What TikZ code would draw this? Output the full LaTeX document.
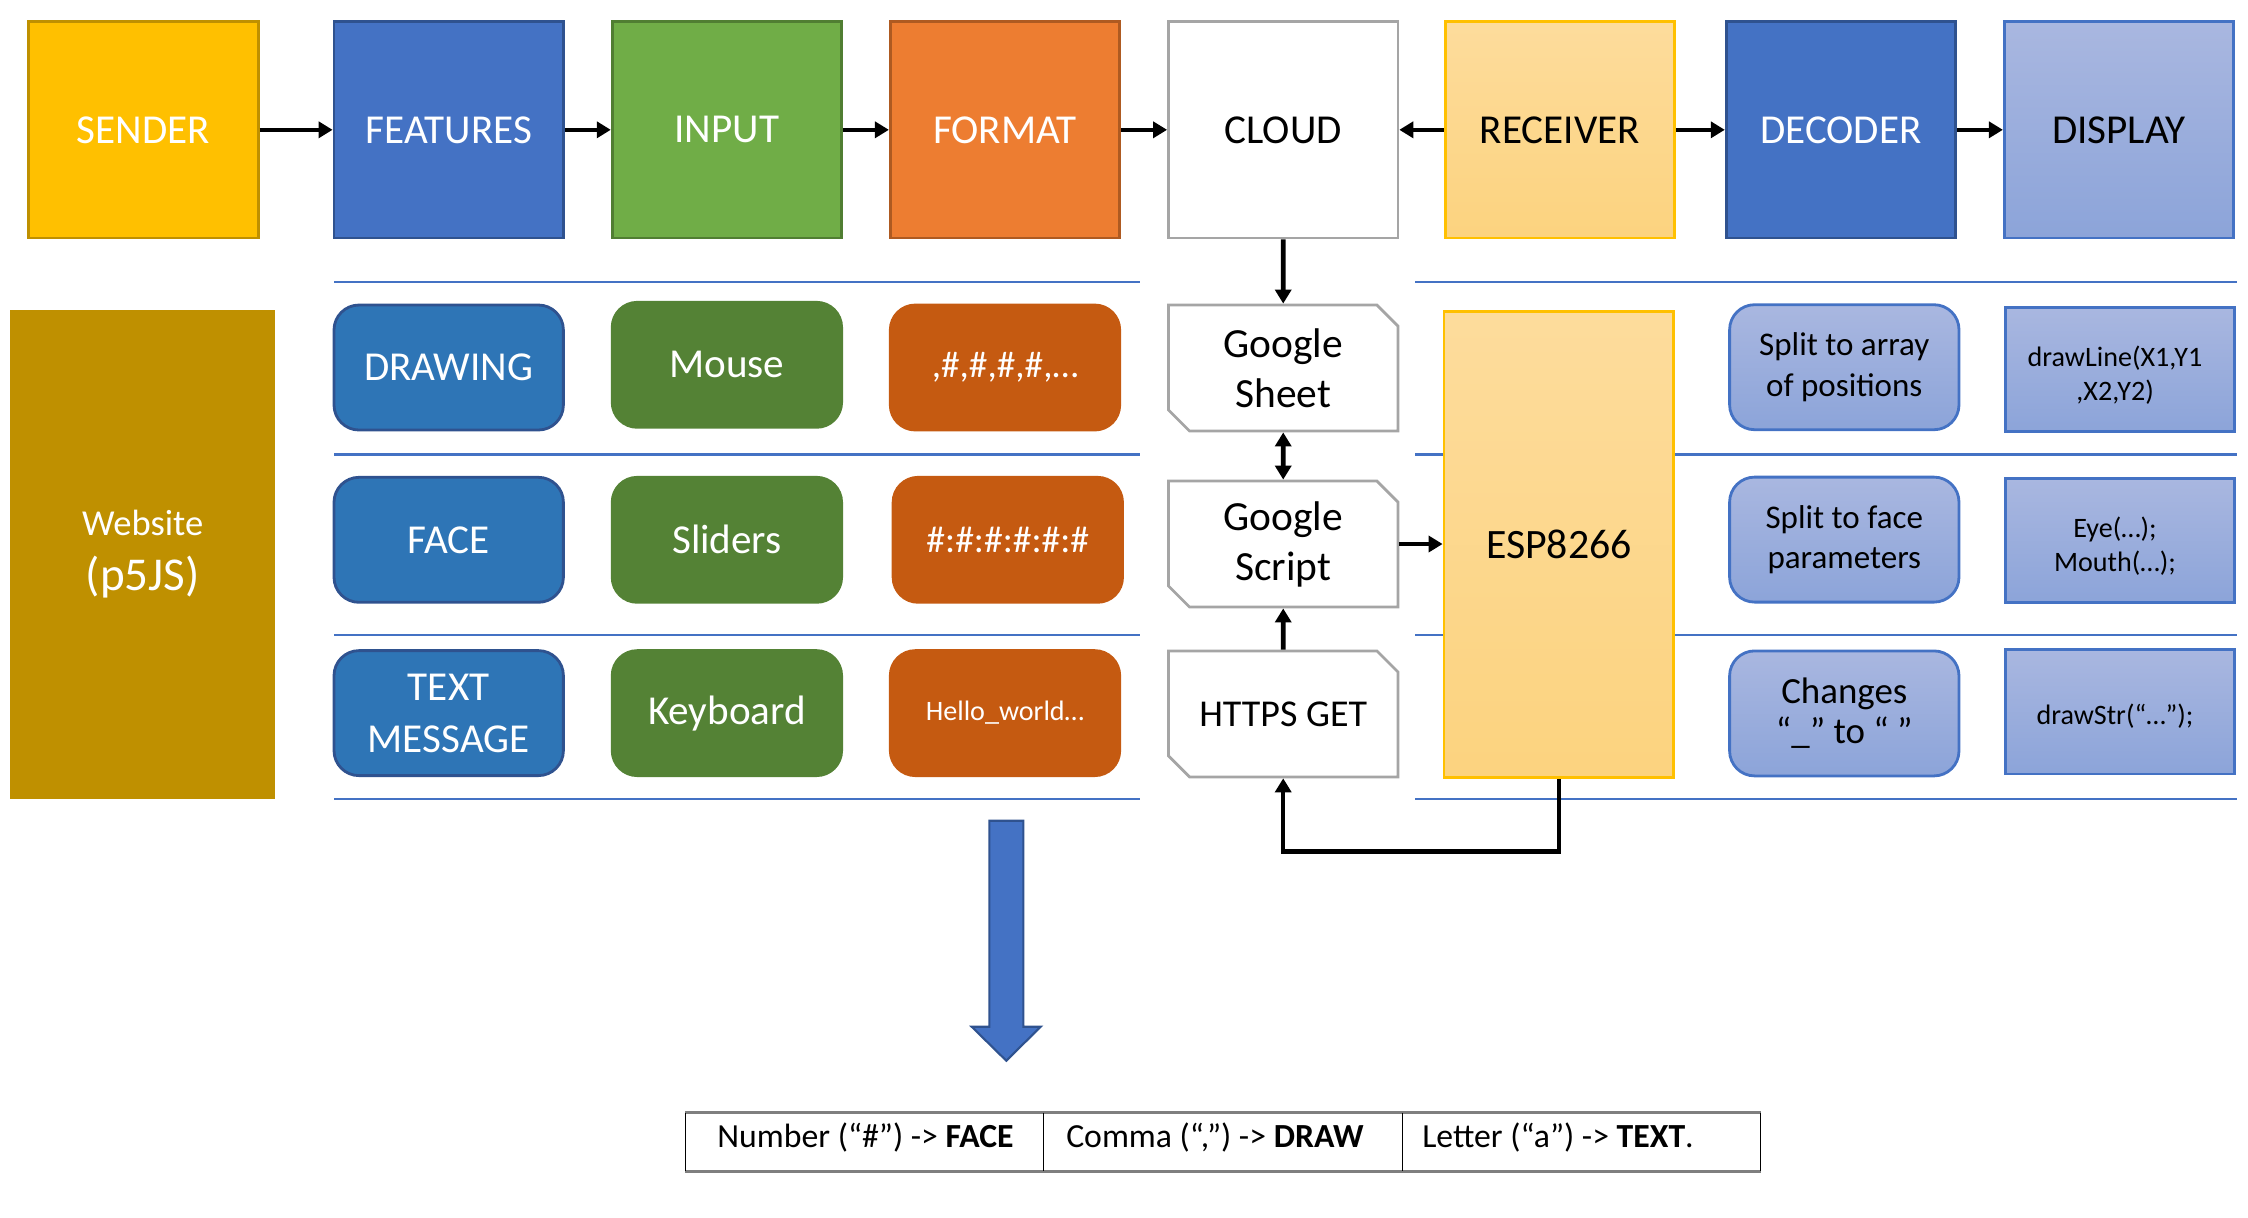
\documentclass[tikz,border=0pt]{standalone}
\usepackage{fontspec}
\setmainfont{Carlito}
\usetikzlibrary{arrows.meta,shapes.misc}
\definecolor{sendergold}{HTML}{FFC000}
\definecolor{senderedge}{HTML}{BF9000}
\definecolor{webgold}{HTML}{BF9000}
\definecolor{featblue}{HTML}{4472C4}
\definecolor{featedge}{HTML}{2F528F}
\definecolor{inputgreen}{HTML}{70AD47}
\definecolor{inputedge}{HTML}{507E32}
\definecolor{formatorange}{HTML}{ED7D31}
\definecolor{formatedge}{HTML}{AE5A21}
\definecolor{cloudgrey}{HTML}{A5A5A5}
\definecolor{recvtop}{HTML}{FDDC9C}
\definecolor{recvbottom}{HTML}{FCD37F}
\definecolor{disptop}{HTML}{A9B7E0}
\definecolor{dispbottom}{HTML}{8CA4D9}
\definecolor{pillblue}{HTML}{2E75B6}
\definecolor{pillgreen}{HTML}{548235}
\definecolor{pillorange}{HTML}{C55A11}
\definecolor{tableedge}{HTML}{7F7F7F}
\begin{document}
\begin{tikzpicture}[
    stage/.style={minimum width=2.294cm,minimum height=2.165cm,inner sep=0pt,line width=0.8pt,font=\fontsize{11.7}{14}\selectfont},
    pill/.style={rounded corners=0.25cm,minimum width=2.294cm,minimum height=1.25cm,inner sep=0pt,line width=0.8pt,align=center,text=white,font=\fontsize{11.7}{14.8}\selectfont},
    snipbox/.style={chamfered rectangle,chamfered rectangle xsep=0.105cm,chamfered rectangle ysep=0.105cm,minimum width=2.294cm,minimum height=1.26cm,inner sep=0pt,line width=0.8pt,align=center},
    codebox/.style={snipbox,chamfered rectangle corners=north east,minimum height=1.244cm,top color=disptop,bottom color=dispbottom,draw=featblue},
    codetext/.style={align=center,inner sep=0pt,font=\fontsize{8}{9.6}\selectfont},
    flow/.style={-{Triangle[length=1.4mm,width=1.6mm]},line width=1.3pt},
    rowline/.style={featblue,line width=0.6pt}
  ]
            \useasboundingbox (0,0) rectangle (22.48,-12.17);

            \node[stage,fill=sendergold,draw=senderedge,text=white] (SND) at (1.434,-1.298) {SENDER};
            \node[stage,fill=featblue,draw=featedge,text=white] (FEA) at (4.487,-1.298) {FEATURES};
            \node[stage,fill=inputgreen,draw=inputedge,text=white] (INP) at (7.269,-1.298) {INPUT};
            \node[stage,fill=formatorange,draw=formatedge,text=white] (FMT) at (10.050,-1.298) {FORMAT};
            \node[stage,fill=white,draw=cloudgrey] (CLD) at (12.832,-1.298) {CLOUD};
            \node[stage,top color=recvtop,bottom color=recvbottom,draw=sendergold] (RCV) at (15.599,-1.298) {RECEIVER};
            \node[stage,fill=featblue,draw=featedge,text=white] (DEC) at (18.409,-1.298) {DECODER};
            \node[stage,top color=disptop,bottom color=dispbottom,draw=featblue] (DSP) at (21.190,-1.298) {DISPLAY};

            \node[fill=webgold,minimum width=2.653cm,minimum height=4.889cm,inner sep=0pt,align=center,text=white,font=\fontsize{10.4}{15.6}\selectfont] (WEB) at (1.427,-5.541) {Website\\{\fontsize{13.4}{15.6}\selectfont (p5JS)}};

            \foreach \y in {-2.824,-4.545,-6.351,-7.986} {
              \draw[rowline] (3.34,\y) -- (11.398,\y);
              \draw[rowline] (14.15,\y) -- (22.366,\y);
            }

            \node[pill,fill=pillblue,draw=featedge] (DRW) at (4.487,-3.675) {DRAWING};
            \node[pill,fill=pillblue,draw=featedge] (FAC) at (4.487,-5.398) {FACE};
            \node[pill,fill=pillblue,draw=featedge] (TXT) at (4.487,-7.131) {TEXT\\MESSAGE};
            \node[pill,fill=pillgreen,draw=pillgreen] (MOU) at (7.269,-3.648) {Mouse};
            \node[pill,fill=pillgreen,draw=pillgreen] (SLD) at (7.269,-5.398) {Sliders};
            \node[pill,fill=pillgreen,draw=pillgreen] (KEY) at (7.269,-7.131) {Keyboard};
            \node[pill,fill=pillorange,draw=pillorange,font=\fontsize{10.6}{13}\selectfont] (F1) at (10.050,-3.675) {,\#,\#,\#,\#,…};
            \node[pill,fill=pillorange,draw=pillorange,font=\fontsize{10.7}{13}\selectfont] (F2) at (10.078,-5.398) {\#:\#:\#:\#:\#:\#};
            \node[pill,fill=pillorange,draw=pillorange,font=\fontsize{8}{10}\selectfont] (F3) at (10.050,-7.131) {Hello\_world…};

            \node[snipbox,chamfered rectangle corners={north east,south west},draw=cloudgrey,fill=white,font=\fontsize{11.8}{14.2}\selectfont] (GS) at (12.832,-3.68) {Google\\Sheet};
            \node[snipbox,chamfered rectangle corners={north east,south west},draw=cloudgrey,fill=white,font=\fontsize{11.8}{14.2}\selectfont] (GSC) at (12.832,-5.44) {Google\\Script};
            \node[snipbox,chamfered rectangle corners={north east,south west},draw=cloudgrey,fill=white,font=\fontsize{10.8}{13}\selectfont] (GET) at (12.832,-7.139) {HTTPS GET};

            \node[top color=recvtop,bottom color=recvbottom,draw=sendergold,minimum width=2.296cm,minimum height=4.665cm,inner sep=0pt,line width=0.8pt,font=\fontsize{11.9}{14}\selectfont] (ESP) at (15.588,-5.446) {ESP8266};

            \node[pill,top color=disptop,bottom color=dispbottom,draw=featblue,text=black,font=\fontsize{9.4}{11.4}\selectfont] (D1) at (18.443,-3.672) {Split to array\\of positions};
            \node[pill,top color=disptop,bottom color=dispbottom,draw=featblue,text=black,font=\fontsize{9.4}{11.4}\selectfont] (D2) at (18.443,-5.396) {Split to face\\parameters};
            \node[pill,top color=disptop,bottom color=dispbottom,draw=featblue,text=black,font=\fontsize{10.5}{11.3}\selectfont] (D3) at (18.443,-7.134) {Changes\\“\_” to “ ”};

            \node[codebox] (P1) at (21.20,-3.695) {};
            \node[codebox] (P2) at (21.20,-5.405) {};
            \node[codebox] (P3) at (21.20,-7.117) {};
            \node[codetext] (P1t) at ([xshift=-0.05cm,yshift=-0.06cm]P1.center) {drawLine(X1,Y1\\,X2,Y2)};
            \node[codetext] (P2t) at ([xshift=-0.05cm,yshift=-0.06cm]P2.center) {Eye(…);\\Mouth(…);};
            \node[codetext] (P3t) at ([xshift=-0.05cm,yshift=-0.04cm]P3.center) {drawStr(“…”);};

            \draw[flow] (SND) -- (FEA);
            \draw[flow] (FEA) -- (INP);
            \draw[flow] (INP) -- (FMT);
            \draw[flow] (FMT) -- (CLD);
            \draw[flow] (RCV) -- (CLD);
            \draw[flow] (RCV) -- (DEC);
            \draw[flow] (DEC) -- (DSP);
            \draw[flow] (CLD) -- (GS);
            \draw[{Triangle[length=1.4mm,width=1.6mm]}-{Triangle[length=1.4mm,width=1.6mm]},line width=1.3pt] (GS) -- (GSC);
            \draw[flow] (GET) -- (GSC);
            \draw[flow] (GSC.east) -- (GSC.east -| ESP.west);
            \draw[flow] (ESP.south) -- ++(0,-0.72) -| (GET.south);

            \filldraw[fill=featblue,draw=featedge,line width=0.6pt] (9.893,-8.207) -- (10.233,-8.207) -- (10.233,-10.267) -- (10.407,-10.267) -- (10.063,-10.607) -- (9.717,-10.267) -- (9.893,-10.267) -- cycle;

            \node[font=\fontsize{9.6}{12}\selectfont] (T1) at (8.655,-11.37) {Number (“\#”) -> \textbf{FACE}};
            \node[font=\fontsize{9.6}{12}\selectfont] (T2) at (12.15,-11.37) {Comma (“,”) -> \textbf{DRAW}};
            \node[font=\fontsize{9.6}{12}\selectfont] (T3) at (15.58,-11.37) {Letter (“a”) -> \textbf{TEXT}.};
            \draw[tableedge,line width=0.8pt] (6.853,-11.125) -- (17.606,-11.125);
            \draw[tableedge,line width=0.8pt] (6.853,-11.713) -- (17.606,-11.713);
            \foreach \x in {6.853,10.437,14.022,17.606}
              \draw[line width=0.4pt] (\x,-11.125) -- (\x,-11.713);
          \end{tikzpicture}
\end{document}
